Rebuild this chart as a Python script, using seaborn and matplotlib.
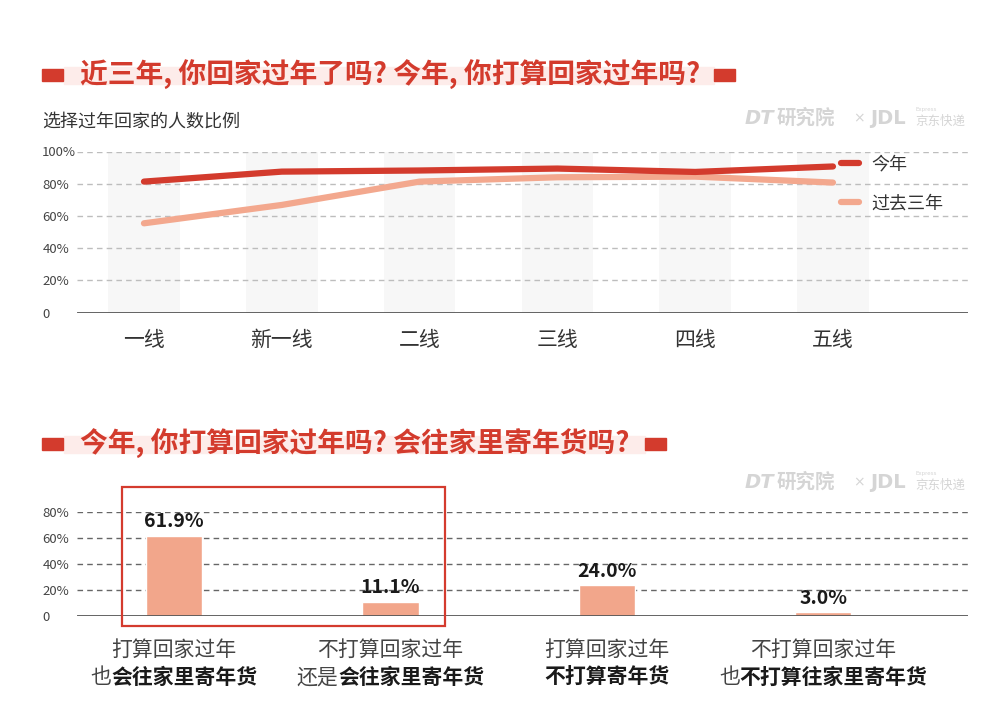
import pandas as pd
import seaborn as sns
import matplotlib.pyplot as plt
from matplotlib.patches import Rectangle
from matplotlib.lines import Line2D

# ---- data ----
cities = ['一线', '新一线', '二线', '三线', '四线', '五线']
this_year = [81.3, 87.5, 88.2, 89.4, 87.3, 90.7]
past_three = [55.4, 66.8, 81.3, 84.0, 84.4, 80.7]

bar_line1 = ['打算回家过年', '不打算回家过年', '打算回家过年', '不打算回家过年']
bar_prefix = ['也', '还是', '', '也']
bar_bold = ['会往家里寄年货', '会往家里寄年货', '不打算寄年货', '不打算往家里寄年货']
bar_values = [61.9, 11.1, 24.0, 3.0]

title1 = '近三年, 你回家过年了吗? 今年, 你打算回家过年吗?'
title2 = '今年, 你打算回家过年吗? 会往家里寄年货吗?'
subtitle1 = '选择过年回家的人数比例'

RED = '#d33b2d'
SALMON = '#f3a88e'
BAR = '#f2a68b'
W, H = 999, 716

sns.set_theme(style="white")
plt.rcParams['font.family'] = ['Noto Sans CJK SC', 'DejaVu Sans']

fig = plt.figure(figsize=(W / 100, H / 100), dpi=100)


def fx(px):
    return px / W


def fy(py):
    return 1 - py / H


def section_title(text, y, x_end):
    # pale band, red squares, bold red title
    fig.patches.append(Rectangle((fx(64), fy(y + 9)), fx(x_end - 64), 17 / H,
                                 transform=fig.transFigure, color='#fdeceA', zorder=0))
    for x0 in (42, x_end):
        fig.patches.append(Rectangle((fx(x0), fy(y + 6)), fx(21), 12 / H,
                                     transform=fig.transFigure, color=RED, zorder=1))
    fig.text(fx(80), fy(y), text, fontsize=20, fontweight='bold', color=RED,
             va='center', ha='left', zorder=2)


def watermark(y):
    c = '#d5d5d5'
    fig.text(fx(745), fy(y), 'DT', fontsize=14, fontweight='bold', style='italic',
             color=c, va='center', family='DejaVu Sans')
    fig.text(fx(777), fy(y), '研究院', fontsize=14, fontweight='bold', color=c, va='center')
    fig.text(fx(853), fy(y), '×', fontsize=10, color=c, va='center', family='DejaVu Sans')
    fig.text(fx(870), fy(y), 'JDL', fontsize=14, fontweight='bold', color=c, va='center',
             family='DejaVu Sans')
    fig.text(fx(915), fy(y + 3), '京东快递', fontsize=9, color=c, va='center')
    fig.text(fx(916), fy(y - 8), 'Express', fontsize=4, color=c, va='center',
             family='DejaVu Sans')


section_title(title1, 75, 714)
section_title(title2, 444, 645)
watermark(118)
watermark(482)
fig.text(fx(42), fy(122), subtitle1, fontsize=13, color='#333333', va='center')

# ---- top: line chart ----
ax1 = fig.add_axes([fx(77), fy(312.5), fx(891), 161 / H])
for i in range(len(cities)):
    ax1.axvspan(i - 0.26, i + 0.26, color='#f7f7f7', zorder=0, lw=0)
for v in [20, 40, 60, 80, 100]:
    ax1.axhline(v, color='#bdbdbd', lw=1, dashes=(4, 3), zorder=1)
ax1.axhline(0, color='#555555', lw=2, zorder=2)

df = pd.DataFrame({
    'city': cities * 2,
    'pct': past_three + this_year,
    'series': ['过去三年'] * len(cities) + ['今年'] * len(cities),
})
sns.lineplot(data=df, x='city', y='pct', hue='series', sort=False,
             palette={'今年': RED, '过去三年': SALMON}, linewidth=4.5,
             solid_capstyle='round', ax=ax1, zorder=3, legend=False)

ax1.set_xlim(-0.486, 5.98)
ax1.set_ylim(0, 100)
ax1.set_yticks([0, 20, 40, 60, 80, 100])
ax1.set_yticklabels(['0', '20%', '40%', '60%', '80%', '100%'])
ax1.set_xlabel('')
ax1.set_ylabel('')

handles = [Line2D([], [], color=RED, lw=4.5, solid_capstyle='round'),
           Line2D([], [], color=SALMON, lw=4.5, solid_capstyle='round')]
ax1.legend(handles, ['今年', '过去三年'], loc='upper left', bbox_to_anchor=(0.857, 0.975),
           frameon=False, fontsize=13, handlelength=1.0, handletextpad=0.7,
           labelspacing=1.15, borderpad=0, borderaxespad=0, labelcolor='#333333')

# ---- bottom: bar chart ----
ax2 = fig.add_axes([fx(77), fy(616), fx(891), 104 / H])
for v in [20, 40, 60, 80]:
    ax2.axhline(v, color='#666666', lw=1, dashes=(4, 3), zorder=0)

bar_keys = [a + b + c for a, b, c in zip(bar_line1, bar_prefix, bar_bold)]
sns.barplot(x=bar_keys, y=bar_values, color=BAR, saturation=1, width=0.26,
            ax=ax2, zorder=2)
ax2.axhline(0, color='#555555', lw=2, zorder=3)
for container in ax2.containers:
    ax2.bar_label(container, labels=[f'{v:.1f}%' for v in bar_values], padding=3,
                  fontsize=14, fontweight='bold', color='#1a1a1a')

ax2.set_xlim(-0.449, 3.67)
ax2.set_ylim(0, 80)
ax2.set_yticks([0, 20, 40, 60, 80])
ax2.set_yticklabels(['0', '20%', '40%', '60%', '80%'])
ax2.set_xticks([])
ax2.add_patch(Rectangle((-0.24, -7.7), 1.49, 106.9, fill=False, ec='#d43b2e',
                        lw=1.6, clip_on=False, zorder=4))

fs = 15
for i in range(len(bar_values)):
    ax2.annotate(bar_line1[i], xy=(i, 0), xycoords=('data', 'axes fraction'),
                 xytext=(0, -24.5), textcoords='offset points', ha='center',
                 va='center', fontsize=fs, color='#444444')
    n_pre, n_b = len(bar_prefix[i]), len(bar_bold[i])
    split = (n_pre - (n_pre + n_b) / 2) * fs
    if n_pre:
        ax2.annotate(bar_prefix[i], xy=(i, 0), xycoords=('data', 'axes fraction'),
                     xytext=(split, -44), textcoords='offset points', ha='right',
                     va='center', fontsize=fs, color='#444444')
    ax2.annotate(bar_bold[i], xy=(i, 0), xycoords=('data', 'axes fraction'),
                 xytext=(split, -44), textcoords='offset points', ha='left',
                 va='center', fontsize=fs, fontweight='bold', color='#1a1a1a')

for ax in (ax1, ax2):
    sns.despine(ax=ax, left=True, bottom=True)
    ax.set_facecolor('none')
    ax.tick_params(axis='y', length=0, pad=25, labelsize=9.5, labelcolor='#444444')
    for lab in ax.get_yticklabels():
        lab.set_horizontalalignment('left')
ax1.tick_params(axis='x', length=0, pad=12, labelsize=15, labelcolor='#333333')

fig.savefig('out.png', dpi=100)
